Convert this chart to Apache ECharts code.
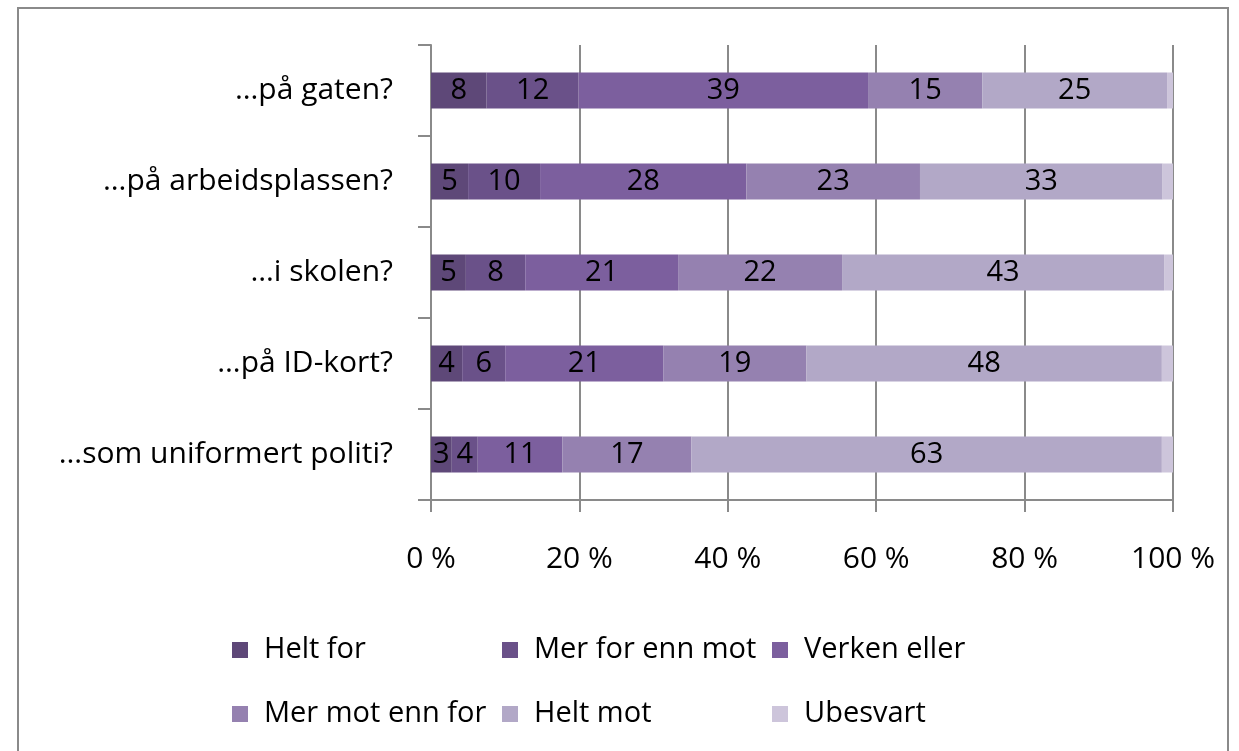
<!DOCTYPE html>
<html>
<head>
<meta charset="utf-8">
<script src="https://cdn.jsdelivr.net/npm/echarts@6/dist/echarts.min.js"></script>
<style>
  html, body { margin: 0; padding: 0; background: #fff; }
  #frame {
    position: absolute; left: 17px; top: 7px; width: 1212px; height: 800px;
    border: 2px solid #8a8a8a; box-sizing: border-box;
  }
  #chart { position: absolute; left: 0; top: 0; width: 1239px; height: 751px; }
</style>
</head>
<body>
<div id="frame"></div>
<div id="chart"></div>
<script>
  // spørsmål (øverst først)
  const categories = [
    "…på gaten?",
    "…på arbeidsplassen?",
    "…i skolen?",
    "…på ID-kort?",
    "…som uniformert politi?"
  ];
  const seriesNames = ["Helt for", "Mer for enn mot", "Verken eller", "Mer mot enn for", "Helt mot", "Ubesvart"];

  // prosent per svaralternativ, anslått fra bildet
  const heltFor = [7.5, 5.0, 4.7, 4.2, 2.8];
  const merForEnnMot = [12.4, 9.7, 8.0, 5.8, 3.5];
  const verkenEller = [39.0, 27.8, 20.6, 21.3, 11.4];
  const merMotEnnFor = [15.4, 23.4, 22.1, 19.3, 17.4];
  const heltMot = [24.9, 32.7, 43.4, 47.9, 63.4];
  const ubesvart = [0.8, 1.4, 1.2, 1.5, 1.5];

  const xTicks = [0, 20, 40, 60, 80, 100];
  const colors = ["#5e4878", "#6a5189", "#7c5f9e", "#9581b0", "#b2a8c7", "#cdc5db"];

  const font = "'Open Sans', 'Noto Sans', sans-serif";
  const chart = echarts.init(document.getElementById("chart"));

  const allData = [heltFor, merForEnnMot, verkenEller, merMotEnnFor, heltMot, ubesvart];

  const series = allData.map((d, i) => ({
    name: seriesNames[i],
    type: "bar",
    stack: "total",
    barWidth: 36,
    data: d,
    itemStyle: { color: colors[i] },
    label: {
      show: i < 5,
      position: "inside",
      color: "#000",
      fontFamily: font,
      fontSize: 29,
      formatter: (p) => Math.round(p.value)
    },
    emphasis: { disabled: true }
  }));

  chart.setOption({
    animation: false,
    grid: { left: 431, right: 66, top: 45, bottom: 251, containLabel: false },
    xAxis: {
      type: "value",
      min: 0,
      max: 100,
      interval: 20,
      axisLine: { show: true, lineStyle: { color: "#8a8a8a", width: 2 } },
      axisTick: { show: true, length: 12, lineStyle: { color: "#8a8a8a", width: 2 } },
      splitLine: { show: true, lineStyle: { color: "#8a8a8a", width: 2 } },
      axisLabel: {
        margin: 44,
        fontFamily: font,
        fontSize: 30,
        color: "#000",
        formatter: (v) => (xTicks.indexOf(v) >= 0 ? v + " %" : "")
      }
    },
    yAxis: {
      type: "category",
      data: categories,
      inverse: true,
      axisLine: { show: true, lineStyle: { color: "#8a8a8a", width: 2 } },
      axisTick: { show: true, length: 13, lineStyle: { color: "#8a8a8a", width: 2 } },
      axisLabel: { margin: 38, fontFamily: font, fontSize: 30, color: "#000" }
    },
    legend: {
      left: 232,
      top: 622,
      padding: 0,
      width: 820,
      itemWidth: 16,
      itemHeight: 16,
      itemGap: 8,
      icon: "rect",
      data: seriesNames,
      textStyle: {
        fontFamily: font,
        fontSize: 29,
        color: "#000",
        width: 230,
        lineHeight: 56,
        padding: [0, 0, 0, 11]
      }
    },
    series: series
  });
</script>
</body>
</html>
